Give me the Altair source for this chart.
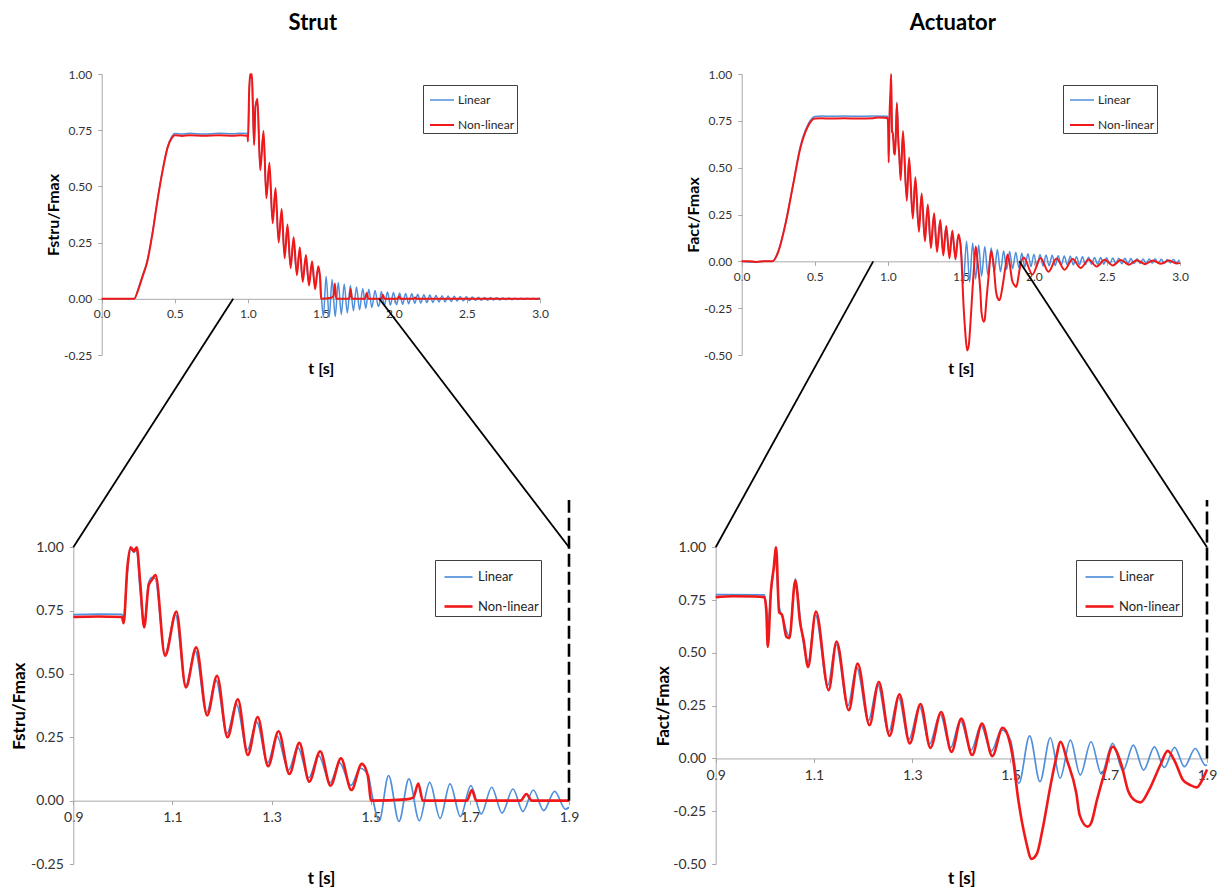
import altair as alt
import pandas as pd

W, H = 1228, 893
BLUE = "#4F8FDB"
RED = "#F01818"
FONT = "Lato"
SERIES = ["Linear", "Non-linear"]

# ---------------- data ----------------
strut_nl_t = [0.0, 0.222, 0.25, 0.28, 0.31, 0.35, 0.38, 0.42, 0.45, 0.48,
              0.5, 0.55, 0.6, 0.7, 0.8, 0.9, 0.95, 0.998, 1.0015, 1.009,
              1.016, 1.022, 1.028, 1.035, 1.043, 1.052, 1.058, 1.066, 1.085, 1.108,
              1.127, 1.148, 1.17, 1.19, 1.211, 1.232, 1.252, 1.272, 1.293, 1.314,
              1.336, 1.356, 1.376, 1.398, 1.419, 1.44, 1.461, 1.482, 1.494, 1.501,
              1.571, 1.586, 1.596, 1.605, 1.694, 1.704, 1.713, 1.802, 1.814, 1.825,
              1.9, 1.915, 1.925, 1.935, 2.025, 2.035, 2.045, 2.135, 2.145, 2.155,
              3.0]
strut_nl_v = [0.0, 0.0, 0.04, 0.1, 0.16, 0.3, 0.43, 0.58, 0.67, 0.715,
              0.728, 0.724, 0.728, 0.725, 0.727, 0.725, 0.727, 0.725, 0.70, 0.92,
              1.0, 0.985, 1.0, 0.86, 0.684, 0.85, 0.87, 0.89, 0.572, 0.746,
              0.447, 0.605, 0.336, 0.493, 0.25, 0.40, 0.18, 0.33, 0.136, 0.274,
              0.105, 0.228, 0.075, 0.195, 0.059, 0.167, 0.042, 0.145, 0.10, 0.0,
              0.005, 0.012, 0.068, 0.0, 0.0, 0.042, 0.0, 0.0, 0.026, 0.0,
              0.0, 0.0, 0.018, 0.0, 0.0, 0.011, 0.0, 0.0, 0.006, 0.0,
              0.0]

strut_lin_t = [0.0, 0.222, 0.25, 0.28, 0.31, 0.35, 0.38, 0.42, 0.45, 0.48,
               0.5, 0.55, 0.6, 0.7, 0.8, 0.9, 0.95, 0.998, 1.0015, 1.009,
               1.016, 1.022, 1.028, 1.034, 1.043, 1.052, 1.058, 1.065, 1.085, 1.106,
               1.127, 1.146, 1.169, 1.188, 1.21, 1.229, 1.251, 1.27, 1.292, 1.311,
               1.334, 1.353, 1.375, 1.395, 1.418, 1.437, 1.46, 1.479, 1.495, 1.503,
               1.517, 1.536, 1.557, 1.577, 1.598, 1.619, 1.64, 1.66, 1.681, 1.702,
               1.723, 1.744, 1.765, 1.787, 1.807, 1.828, 1.849, 1.871, 1.893, 1.9,
               1.914, 1.935, 1.956, 1.976, 1.997, 2.018, 2.039, 2.06, 2.08, 2.101,
               2.122, 2.143, 2.163, 2.184, 2.205, 2.226, 2.246, 2.267, 2.288, 2.309,
               2.33, 2.35, 2.371, 2.392, 2.413, 2.433, 2.454, 2.475, 2.496, 2.516,
               2.537, 2.558, 2.579, 2.599, 2.62, 2.641, 2.662, 2.683, 2.703, 2.724,
               2.745, 2.766, 2.786, 2.807, 2.828, 2.849, 2.869, 2.89, 2.911, 2.932,
               2.952, 2.973, 2.994, 3.0]
strut_lin_v = [0.0, 0.0, 0.045, 0.105, 0.165, 0.305, 0.435, 0.585, 0.675, 0.722,
               0.735, 0.733, 0.736, 0.733, 0.736, 0.734, 0.736, 0.735, 0.72, 0.9,
               0.995, 0.98, 0.99, 0.85, 0.69, 0.86, 0.88, 0.878, 0.58, 0.735,
               0.455, 0.59, 0.348, 0.475, 0.265, 0.38, 0.2, 0.31, 0.15, 0.255,
               0.12, 0.21, 0.09, 0.178, 0.07, 0.15, 0.06, 0.128, 0.1, 0.02,
               -0.08, 0.099, -0.082, 0.086, -0.079, 0.072, -0.07, 0.066, -0.063, 0.059,
               -0.053, 0.053, -0.049, 0.046, -0.042, 0.042, -0.039, 0.037, -0.034, -0.026,
               0.032, -0.03, 0.03, -0.028, 0.028, -0.026, 0.026, -0.024, 0.024, -0.022,
               0.022, -0.02, 0.02, -0.019, 0.018, -0.017, 0.017, -0.016, 0.015, -0.014,
               0.014, -0.013, 0.012, -0.012, 0.011, -0.01, 0.01, -0.009, 0.009, -0.008,
               0.008, -0.007, 0.007, -0.007, 0.006, -0.006, 0.006, -0.005, 0.005, -0.005,
               0.004, -0.004, 0.004, -0.004, 0.003, -0.003, 0.003, -0.003, 0.003, -0.002,
               0.002, -0.002, 0.002, 0.0]

act_nl_t = [0.0, 0.05, 0.1, 0.15, 0.21, 0.25, 0.3, 0.35, 0.4, 0.45,
            0.5, 0.55, 0.6, 0.7, 0.8, 0.9, 0.935, 0.98, 0.999, 1.003,
            1.006, 1.0125, 1.018, 1.023, 1.029, 1.035, 1.044, 1.05, 1.062, 1.072,
            1.079, 1.088, 1.104, 1.13, 1.146, 1.171, 1.189, 1.213, 1.232, 1.254,
            1.274, 1.295, 1.317, 1.337, 1.359, 1.38, 1.4, 1.422, 1.442, 1.463,
            1.484, 1.497, 1.505, 1.516, 1.531, 1.543, 1.554, 1.565, 1.581, 1.592,
            1.602, 1.615, 1.634, 1.641, 1.657, 1.664, 1.676, 1.691, 1.708, 1.725,
            1.74, 1.752, 1.765, 1.782, 1.805, 1.82, 1.835, 1.851, 1.866, 1.879,
            1.892, 1.9, 1.93, 1.99, 2.045, 2.1, 2.155, 2.21, 2.265, 2.32,
            2.375, 2.43, 2.485, 2.54, 2.595, 2.65, 2.705, 2.76, 2.815, 2.87,
            2.925, 2.98, 3.0]
act_nl_v = [0.0, 0.0, -0.003, 0.0, 0.0, 0.05, 0.2, 0.4, 0.6, 0.715,
            0.762, 0.764, 0.762, 0.764, 0.762, 0.764, 0.768, 0.767, 0.764, 0.70,
            0.528, 0.795, 0.9, 1.0, 0.693, 0.68, 0.575, 0.57, 0.843, 0.64,
            0.56, 0.433, 0.696, 0.323, 0.554, 0.228, 0.449, 0.157, 0.362, 0.107,
            0.304, 0.071, 0.257, 0.05, 0.22, 0.031, 0.189, 0.016, 0.165, 0.011,
            0.145, 0.09, 0.0, -0.197, -0.386, -0.476, -0.45, -0.339, -0.134, -0.008,
            0.079, -0.008, -0.165, -0.27, -0.323, -0.307, -0.197, -0.071, 0.055, -0.024,
            -0.157, -0.197, -0.208, -0.15, -0.031, 0.036, -0.016, -0.102, -0.126, -0.137,
            -0.094, -0.052, 0.02, -0.07, 0.018, -0.055, 0.015, -0.045, 0.012, -0.035,
            0.01, -0.028, 0.008, -0.022, 0.007, -0.018, 0.006, -0.015, 0.005, -0.013,
            0.004, -0.012, -0.008]

act_lin_t = [0.0, 0.05, 0.1, 0.15, 0.21, 0.25, 0.3, 0.35, 0.4, 0.45,
             0.5, 0.55, 0.6, 0.7, 0.8, 0.9, 0.999, 1.003, 1.006, 1.013,
             1.022, 1.029, 1.036, 1.046, 1.05, 1.062, 1.074, 1.088, 1.103, 1.128,
             1.145, 1.169, 1.187, 1.211, 1.23, 1.252, 1.272, 1.293, 1.315, 1.335,
             1.357, 1.378, 1.398, 1.42, 1.44, 1.461, 1.482, 1.5, 1.517, 1.539,
             1.56, 1.581, 1.601, 1.622, 1.642, 1.664, 1.685, 1.708, 1.729, 1.75,
             1.771, 1.793, 1.813, 1.834, 1.854, 1.876, 1.897, 1.9, 1.917, 1.938,
             1.959, 1.98, 2.0, 2.021, 2.042, 2.063, 2.083, 2.104, 2.125, 2.146,
             2.166, 2.187, 2.208, 2.229, 2.249, 2.27, 2.291, 2.312, 2.332, 2.353,
             2.374, 2.395, 2.415, 2.436, 2.457, 2.478, 2.498, 2.519, 2.54, 2.561,
             2.581, 2.602, 2.623, 2.644, 2.664, 2.685, 2.706, 2.727, 2.747, 2.768,
             2.789, 2.81, 2.83, 2.851, 2.872, 2.893, 2.913, 2.934, 2.955, 2.976,
             2.996]
act_lin_v = [0.0, -0.004, -0.005, 0.0, 0.0, 0.055, 0.205, 0.405, 0.61, 0.725,
             0.773, 0.776, 0.774, 0.776, 0.774, 0.776, 0.775, 0.72, 0.62, 0.80,
             0.93, 0.72, 0.67, 0.59, 0.58, 0.85, 0.62, 0.457, 0.68, 0.345,
             0.54, 0.25, 0.43, 0.18, 0.35, 0.125, 0.29, 0.09, 0.245, 0.068,
             0.21, 0.05, 0.18, 0.04, 0.155, 0.035, 0.135, 0.087, -0.118, 0.107,
             -0.11, 0.098, -0.094, 0.087, -0.079, 0.079, -0.074, 0.071, -0.058, 0.063,
             -0.055, 0.055, -0.043, 0.052, -0.039, 0.047, -0.033, -0.03, 0.044, -0.03,
             0.041, -0.028, 0.038, -0.027, 0.036, -0.025, 0.034, -0.024, 0.032, -0.022,
             0.03, -0.021, 0.028, -0.02, 0.027, -0.019, 0.025, -0.018, 0.024, -0.017,
             0.022, -0.016, 0.021, -0.015, 0.02, -0.015, 0.019, -0.014, 0.018, -0.013,
             0.017, -0.013, 0.016, -0.012, 0.015, -0.012, 0.014, -0.011, 0.013, -0.011,
             0.012, -0.01, 0.012, -0.01, 0.011, -0.01, 0.01, -0.009, 0.01, -0.009,
             0.009]

top_xticks = [0.0, 0.5, 1.0, 1.5, 2.0, 2.5, 3.0]
zoom_xticks = [0.9, 1.1, 1.3, 1.5, 1.7, 1.9]
strut_yticks = [-0.25, 0.0, 0.25, 0.5, 0.75, 1.0]
act_yticks = [-0.5, -0.25, 0.0, 0.25, 0.5, 0.75, 1.0]


def frame(lt, lv, nt, nv):
    a = pd.DataFrame({"t": lt, "v": lv, "series": "Linear"})
    b = pd.DataFrame({"t": nt, "v": nv, "series": "Non-linear"})
    return pd.concat([a, b], ignore_index=True)


strut_df = frame(strut_lin_t, strut_lin_v, strut_nl_t, strut_nl_v)
act_df = frame(act_lin_t, act_lin_v, act_nl_t, act_nl_v)

# ---------------- layout (pixel geometry of each plot area) ----------------
GEO = {
    "TL": dict(x0=101.7, x1=540.0, yt=74.0, yb=355.0, xd=[0.0, 3.0], yd=[-0.25, 1.0]),
    "TR": dict(x0=741.7, x1=1180.0, yt=74.0, yb=355.0, xd=[0.0, 3.0], yd=[-0.5, 1.0]),
    "BL": dict(x0=73.3, x1=569.0, yt=547.3, yb=864.0, xd=[0.9, 1.9], yd=[-0.25, 1.0]),
    "BR": dict(x0=715.7, x1=1207.0, yt=547.3, yb=864.0, xd=[0.9, 1.9], yd=[-0.5, 1.0]),
}
DASH_TOP = 500.0


def px(g, t, v):
    x = g["x0"] + (t - g["xd"][0]) / (g["xd"][1] - g["xd"][0]) * (g["x1"] - g["x0"])
    y = g["yb"] - (v - g["yd"][0]) / (g["yd"][1] - g["yd"][0]) * (g["yb"] - g["yt"])
    return x, y


def xs(g):
    return alt.Scale(domain=g["xd"], range=[g["x0"], g["x1"]], nice=False, zero=False)


def ys(g):
    return alt.Scale(domain=g["yd"], range=[g["yb"], g["yt"]], nice=False, zero=False)


def ax_style(lfs, tfs, lpad):
    return dict(grid=False, tickSize=4, labelPadding=lpad, domainColor="#A9A9A9",
                tickColor="#A9A9A9", labelColor="#333333", labelFont=FONT,
                labelFontSize=lfs, titleFont=FONT, titleFontSize=tfs,
                titleFontWeight="bold", titleColor="#000000", labelOverlap=False,
                labelFlush=False)


YLABEL = "replace(format(datum.value, '.2f'), '\u2212', '-')"


def panel(df, g, xticks, yticks, ytitle, ytitle_x, xtitle_y, leg, lfs, tfs, widths, zoom=False):
    _, yz = px(g, g["xd"][0], 0.0)
    base = alt.Chart(df)
    if zoom:
        base = base.transform_filter(alt.FieldRangePredicate(field="t", range=g["xd"]))
    xaxis = alt.Axis(orient="bottom", offset=yz - H, values=xticks, format=".1f",
                     title="t [s]", titleY=xtitle_y - yz, titleBaseline="middle",
                     **ax_style(lfs, tfs, 6))
    yaxis = alt.Axis(orient="left", offset=-g["x0"], values=yticks, labelExpr=YLABEL,
                     title=ytitle, titleX=ytitle_x - g["x0"], titleBaseline="middle",
                     **ax_style(lfs, tfs, 6))
    return base.mark_line(interpolate="monotone").encode(
        x=alt.X("t:Q", scale=xs(g), axis=xaxis),
        y=alt.Y("v:Q", scale=ys(g), axis=yaxis),
        color=alt.Color("series:N", scale=alt.Scale(domain=SERIES, range=[BLUE, RED]),
                        legend=alt.Legend(**leg)),
        strokeWidth=alt.StrokeWidth("series:N", scale=alt.Scale(domain=SERIES, range=widths),
                                    legend=None),
    )


def legend(x, y, sym, off, loff, fs, rowpad):
    return dict(orient="none", legendX=x, legendY=y, title=None, direction="vertical",
                symbolType="stroke", symbolSize=sym, symbolStrokeWidth=2,
                symbolOffset=off, labelOffset=loff, rowPadding=rowpad, padding=2,
                labelFont=FONT, labelFontSize=fs, labelColor="#262626",
                labelExpr="datum.label + '   '",
                strokeColor="#404040", fillColor="#FFFFFF")


one = pd.DataFrame({"k": [0]})


def zoom_marks(gb, gt):
    """Connector lines from the upper panel's zoom window to the lower panel, plus the
    dashed marker at the right end of the zoom window (own scales, same geometry)."""
    xa, ya = px(gt, gb["xd"][0], 0.0)
    xb, yb = px(gt, gb["xd"][1], 0.0)
    out = []
    for tx, ux, uy in [(gb["xd"][0], xa, ya), (gb["xd"][1], xb, yb)]:
        out.append(alt.Chart(one).mark_rule(color="black", strokeWidth=1.8).encode(
            x=alt.X(datum=tx, type="quantitative", scale=xs(gb), axis=None),
            y=alt.Y(datum=gb["yd"][1], type="quantitative", scale=ys(gb), axis=None),
            x2=alt.value(ux), y2=alt.value(uy)))
    out.append(alt.Chart(one).mark_rule(color="black", strokeWidth=2.6, strokeDash=[13, 5]).encode(
        x=alt.X(datum=gb["xd"][1], type="quantitative", scale=xs(gb), axis=None),
        y=alt.Y(datum=0.0, type="quantitative", scale=ys(gb), axis=None),
        y2=alt.value(DASH_TOP)))
    return out


tl = panel(strut_df, GEO["TL"], top_xticks, strut_yticks, "Fstru/Fmax", 54, 368,
           legend(423, 85, 576, 4, 3, 12, 6), 12, 16, [1.5, 2.0])
tr = panel(act_df, GEO["TR"], top_xticks, act_yticks, "Fact/Fmax", 693, 368,
           legend(1063, 85, 576, 4, 3, 12, 6), 12, 16, [1.5, 2.0])
bl = panel(strut_df, GEO["BL"], zoom_xticks, strut_yticks, "Fstru/Fmax", 19, 878,
           legend(435, 560, 784, 6, 4, 13, 7), 14, 17, [1.7, 2.6], zoom=True)
br = panel(act_df, GEO["BR"], zoom_xticks, act_yticks, "Fact/Fmax", 663, 878,
           legend(1076, 560, 784, 6, 4, 13, 7), 14, 17, [1.7, 2.6], zoom=True)

titles_df = pd.DataFrame({"label": ["Strut", "Actuator"],
                          "cx": [(GEO["TL"]["x0"] + GEO["TL"]["x1"]) / 2 - 8,
                                 (GEO["TR"]["x0"] + GEO["TR"]["x1"]) / 2 - 8]})
titles = []
for i in range(2):
    titles.append(alt.Chart(titles_df.iloc[[i]]).mark_text(
        font=FONT, fontSize=22, fontWeight="bold", baseline="alphabetic", color="black"
    ).encode(text="label:N", x=alt.value(float(titles_df.cx[i])), y=alt.value(30)))

layers = [tl, tr, bl, br] + zoom_marks(GEO["BL"], GEO["TL"]) + zoom_marks(GEO["BR"], GEO["TR"]) + titles

chart = alt.layer(*layers).resolve_scale(
    x="independent", y="independent", color="independent", strokeWidth="independent"
).properties(
    width=W, height=H, padding=0, background="white",
    autosize=alt.AutoSizeParams(type="none"),
).configure_view(strokeWidth=0)

chart.save("out.html", embed_options={"renderer": "svg", "actions": False})
